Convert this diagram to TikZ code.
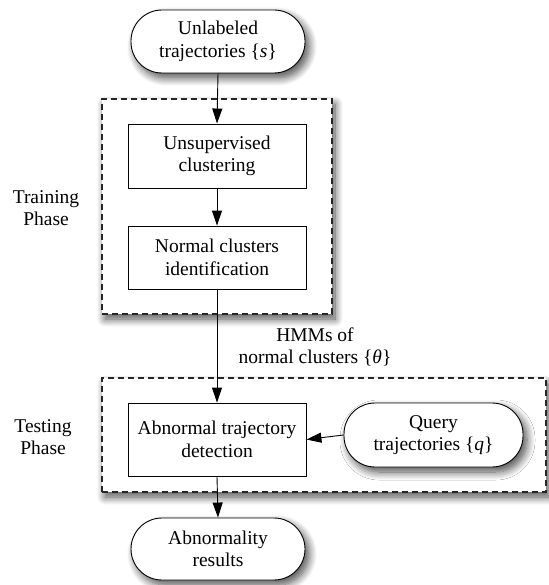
\documentclass[tikz,border=0pt]{standalone}
\usepackage{fontspec}
\setmainfont{Liberation Serif}
\usetikzlibrary{arrows.meta,shadows.blur,shapes.misc}
\begin{document}
\begin{tikzpicture}[x=1pt,y=-1pt,
  every node/.style={font=\fontsize{19.5}{22.5}\selectfont, align=center, inner sep=0pt},
  term/.style={draw, line width=0.9pt, fill=white, rounded corners=31pt,
    blur shadow={shadow xshift=4pt, shadow yshift=-5pt, shadow blur steps=10, shadow blur radius=8pt, shadow opacity=70}},
  proc/.style={draw, line width=0.9pt, fill=white, minimum width=178pt},
  phase/.style={draw, dash pattern=on 6pt off 4pt, line width=1.2pt, draw=black!85, fill=white,
    blur shadow={shadow xshift=3pt, shadow yshift=-5pt, shadow blur steps=10, shadow blur radius=8pt, shadow opacity=70}},
  arr/.style={-{Triangle[length=15pt,width=10pt]}, line width=0.9pt}
]
\useasboundingbox (0,0) rectangle (548,585);
\node[phase, minimum width=230pt, minimum height=215pt] (train) at (217,206.5) {};
\node[phase, minimum width=444pt, minimum height=114pt] (test) at (324,435) {};
\node[term, minimum width=174pt, minimum height=63pt] (src) at (218,41.5) {Unlabeled\\trajectories \{\textit{s}\}};
\node[proc, minimum height=64pt] (unsup) at (217,156) {Unsupervised\\clustering};
\node[proc, minimum height=63pt] (norm) at (217,257.5) {Normal clusters\\identification};
\node[proc, minimum height=73pt] (abn) at (217,439.5) {Abnormal trajectory\\detection};
\node[term, minimum width=179pt, minimum height=64pt] (query) at (433.5,435) {Query\\trajectories \{\textit{q}\}};
\node[term, minimum width=174pt, minimum height=62pt] (res) at (218,549) {Abnormality\\results};
\node (trainlbl) at (46,208) {Training\\Phase};
\node (testlbl) at (43,437) {Testing\\Phase};
\node (hmm) at (315,347) {HMMs of\\normal clusters \{\textit{θ}\}};
\draw[arr] (src.south) -- (unsup.north);
\draw[arr] (unsup.south) -- (norm.north);
\draw[arr] (norm.south) -- (abn.north);
\draw[arr] (query.west) -- (abn.east);
\draw[arr] (abn.south) -- (res.north);
\end{tikzpicture}
\end{document}
